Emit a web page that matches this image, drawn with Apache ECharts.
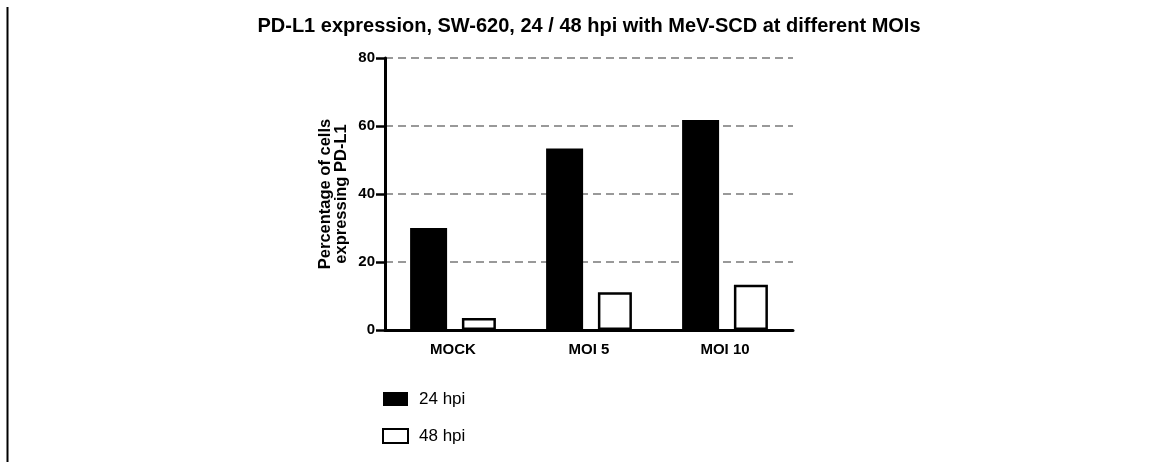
<!DOCTYPE html>
<html>
<head>
<meta charset="utf-8">
<title>PD-L1 expression, SW-620</title>
<script src="https://cdn.jsdelivr.net/npm/echarts@6/dist/echarts.min.js"></script>
<style>
  html, body { margin: 0; padding: 0; background: #fff; }
  #chart { width: 1159px; height: 468px; }
</style>
</head>
<body>
<div id="chart"></div>
<script>
// Groups along the x axis
const categories = ['MOCK', 'MOI 5', 'MOI 10'];
// Percentage of cells expressing PD-L1
const hpi24 = [30.0, 53.4, 61.8];
const hpi48 = [3.5, 11.1, 13.3];
// Y axis range and step
const yMin = 0;
const yMax = 80;
const yStep = 20;

const FONT = '"Liberation Sans", Arial, Helvetica, sans-serif';

const chart = echarts.init(document.getElementById('chart'), null, { renderer: 'canvas' });

chart.setOption({
  animation: false,
  backgroundColor: '#fff',
  title: {
    text: 'PD-L1 expression, SW-620, 24 / 48 hpi with MeV-SCD at different MOIs',
    left: 589,
    textAlign: 'center',
    top: 16,
    padding: 0,
    textStyle: { fontFamily: FONT, fontSize: 20, lineHeight: 20, fontWeight: 'bold', color: '#000' }
  },
  legend: {
    orient: 'vertical',
    left: 382,
    top: 389,
    padding: 0,
    itemWidth: 25,
    itemHeight: 14,
    itemGap: 17,
    icon: 'rect',
    textStyle: { fontFamily: FONT, fontSize: 17, lineHeight: 20, color: '#000', padding: [0, 0, 0, 6] },
    data: ['24 hpi', '48 hpi']
  },
  grid: { left: 385, right: 366, top: 58, bottom: 138, containLabel: false },
  xAxis: {
    type: 'category',
    data: categories,
    boundaryGap: true,
    axisLine: { lineStyle: { color: '#000', width: 3 } },
    axisTick: { alignWithLabel: true, length: 7, lineStyle: { color: '#000', width: 2.5 } },
    axisLabel: { fontFamily: FONT, fontSize: 15, fontWeight: 'bold', color: '#000', margin: 12 }
  },
  yAxis: {
    type: 'value',
    min: yMin,
    max: yMax,
    interval: yStep,
    name: 'Percentage of cells\nexpressing PD-L1',
    nameLocation: 'middle',
    nameRotate: 90,
    nameGap: 36,
    nameTextStyle: { fontFamily: FONT, fontSize: 16.5, fontWeight: 'bold', color: '#000', lineHeight: 16 },
    axisLine: { show: true, lineStyle: { color: '#000', width: 3 } },
    axisTick: { show: true, length: 9, lineStyle: { color: '#000', width: 2.5 } },
    axisLabel: { fontFamily: FONT, fontSize: 15, fontWeight: 'bold', color: '#000', margin: 10 },
    splitLine: { show: true, lineStyle: { color: '#999', width: 2, type: [8, 5] } }
  },
  series: [
    {
      name: '24 hpi',
      type: 'bar',
      data: hpi24,
      barWidth: 37,
      barGap: '40%',
      itemStyle: { color: '#000', borderColor: '#000', borderWidth: 0 }
    },
    {
      name: '48 hpi',
      type: 'bar',
      data: hpi48,
      barWidth: 34,
      itemStyle: { color: '#fff', borderColor: '#000', borderWidth: 2.5 }
    }
  ],
  graphic: [
    {
      type: 'line',
      shape: { x1: 7.5, y1: 7, x2: 7.5, y2: 462 },
      style: { stroke: '#000', lineWidth: 2 }
    }
  ]
});
</script>
</body>
</html>
